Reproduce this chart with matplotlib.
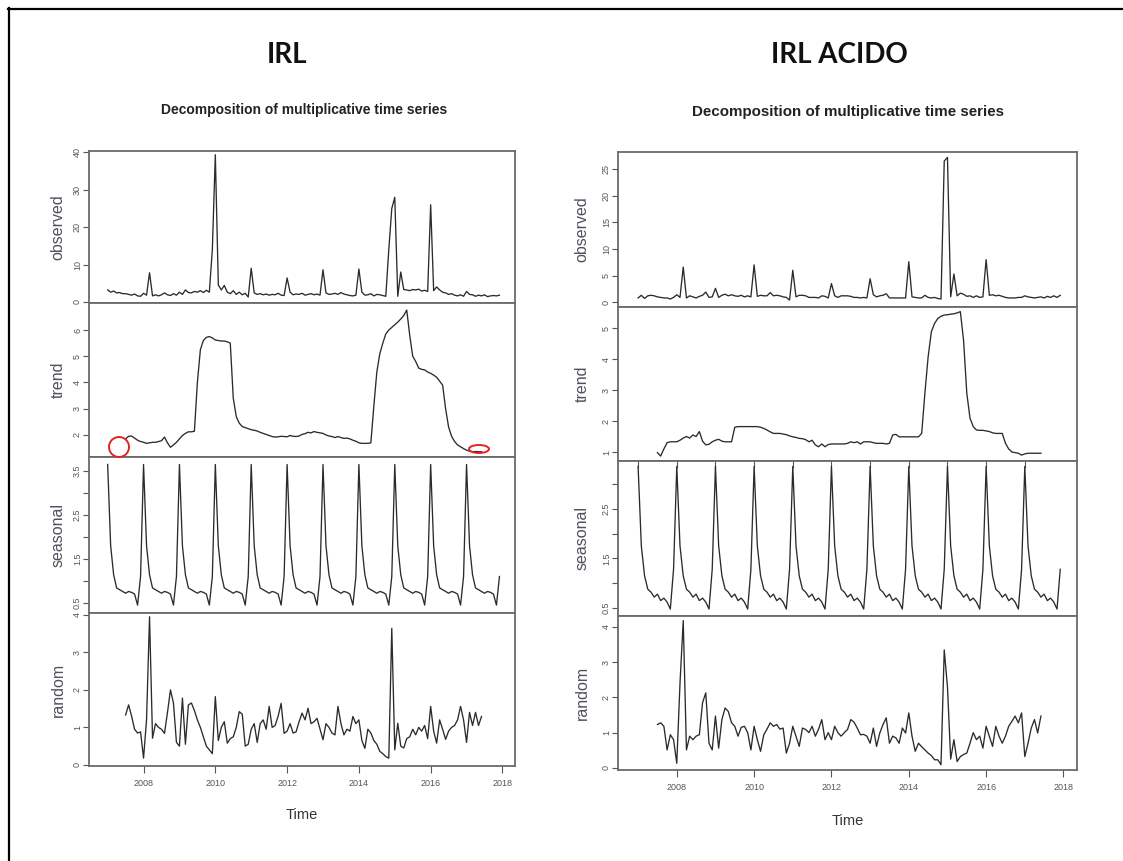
import numpy as np
import matplotlib.pyplot as plt
from matplotlib.patches import Ellipse
from matplotlib.lines import Line2D

W, H = 1123, 861
NARROW = ["Liberation Sans Narrow", "Liberation Sans", "DejaVu Sans"]
plt.rcParams["font.family"] = ["Liberation Sans", "DejaVu Sans"]

# monthly series, Jan 2007 .. Dec 2017
start_year = 2007
freq = 12
panel_names = ["observed", "trend", "seasonal", "random"]
x_ticks = [2008, 2010, 2012, 2014, 2016, 2018]

# ---------------- IRL ----------------
irl_observed = [
    3.2, 2.6, 2.9, 2.4, 2.5, 2.2, 2.2, 2.0, 1.8, 2.1, 1.6, 1.5,
    2.3, 1.8, 7.8, 1.6, 1.9, 1.6, 1.9, 2.4, 1.9, 1.7, 2.2, 1.8,
    2.6, 2.0, 3.2, 2.5, 2.4, 2.8, 2.6, 3.0, 2.5, 3.1, 2.6, 14.0,
    39.4, 4.5, 3.2, 4.4, 2.6, 2.2, 3.0, 2.0, 2.6, 1.9, 2.3, 1.3,
    9.0, 2.4, 2.0, 2.2, 1.9, 2.1, 1.8, 2.0, 1.9, 2.3, 1.8, 1.7,
    6.4, 2.6, 1.9, 2.1, 2.0, 2.3, 1.8, 2.0, 2.2, 1.9, 2.1, 1.8,
    8.6, 2.4, 2.0, 2.1, 2.3, 2.0, 2.5, 2.1, 1.9, 1.7, 1.6, 1.8,
    8.8, 2.6, 1.8, 1.9, 2.2, 1.6, 2.0, 1.9, 1.7, 1.5, 14.0, 25.0,
    28.0, 1.5, 8.0, 3.3, 3.2, 3.0, 3.3, 3.2, 3.4, 2.9, 3.1, 2.8,
    26.0, 3.0, 4.0, 3.2, 2.6, 2.4, 2.0, 2.2, 1.8, 1.6, 1.9, 1.5,
    2.8, 2.0, 1.9, 1.5, 1.8, 1.6, 1.9, 1.4, 1.6, 1.7, 1.6, 1.8,
]
# trend / random: Jul 2007 .. Jun 2017 (moving average loses 6 months each end)
irl_trend = [
    1.85, 1.95, 1.96, 1.88, 1.80, 1.75, 1.72, 1.68, 1.70, 1.72, 1.72, 1.75,
    1.78, 1.92, 1.70, 1.53, 1.62, 1.72, 1.85, 1.98, 2.06, 2.12, 2.12, 2.14,
    4.00, 5.25, 5.60, 5.72, 5.75, 5.70, 5.62, 5.60, 5.58, 5.58, 5.55, 5.50,
    3.40, 2.70, 2.45, 2.32, 2.28, 2.24, 2.20, 2.18, 2.15, 2.10, 2.06, 2.02,
    1.98, 1.94, 1.92, 1.93, 1.95, 1.94, 1.93, 1.98, 1.95, 1.94, 1.96, 2.02,
    2.05, 2.10, 2.08, 2.13, 2.10, 2.08, 2.06, 2.00, 1.96, 1.94, 1.90, 1.94,
    1.90, 1.87, 1.88, 1.85, 1.80, 1.76, 1.70, 1.68, 1.68, 1.68, 1.70, 3.10,
    4.40, 5.10, 5.50, 5.85, 6.00, 6.10, 6.20, 6.30, 6.42, 6.55, 6.76, 5.80,
    5.00, 4.80, 4.55, 4.50, 4.48, 4.40, 4.35, 4.28, 4.20, 4.05, 3.90, 3.00,
    2.30, 1.95, 1.75, 1.62, 1.55, 1.48, 1.42, 1.38, 1.36, 1.37, 1.36, 1.36,
]
irl_seasonal = [3.65, 1.80, 1.14, 0.84, 0.80, 0.76, 0.72, 0.76, 0.74, 0.70, 0.45, 1.10]
irl_random = [
    1.33, 1.60, 1.30, 0.95, 0.85, 0.88, 0.18, 1.20, 3.95, 0.71, 1.10, 1.00,
    0.95, 0.84, 1.40, 2.00, 1.65, 0.60, 0.50, 1.78, 0.55, 1.60, 1.65, 1.45,
    1.20, 1.00, 0.75, 0.50, 0.40, 0.30, 1.82, 0.65, 1.00, 1.15, 0.58, 0.70,
    0.75, 1.00, 1.42, 1.35, 0.50, 0.55, 0.95, 1.10, 0.60, 1.10, 1.20, 0.95,
    1.56, 1.00, 1.05, 1.30, 1.64, 0.84, 0.90, 1.10, 0.85, 0.88, 1.15, 1.38,
    1.20, 1.51, 1.10, 1.15, 1.24, 0.95, 0.67, 1.10, 1.00, 0.85, 0.80, 1.56,
    1.10, 0.80, 0.95, 0.90, 1.29, 1.10, 1.20, 0.65, 0.44, 0.95, 0.85, 0.65,
    0.55, 0.36, 0.30, 0.22, 0.18, 3.64, 0.40, 1.11, 0.50, 0.45, 0.70, 0.75,
    0.95, 0.80, 1.00, 0.90, 1.05, 0.70, 1.56, 0.90, 0.58, 1.20, 0.95, 0.68,
    0.90, 1.00, 1.05, 1.20, 1.56, 1.20, 0.60, 1.40, 1.05, 1.40, 1.05, 1.29,
]

# ---------------- IRL ACIDO ----------------
acido_observed = [
    0.8, 1.3, 0.7, 1.2, 1.3, 1.2, 1.0, 0.9, 0.8, 0.8, 0.6, 0.9,
    1.4, 0.9, 6.6, 0.8, 1.2, 1.0, 0.8, 1.1, 1.3, 1.9, 0.9, 1.0,
    2.6, 0.9, 1.3, 1.5, 1.2, 1.4, 1.2, 1.1, 1.3, 1.0, 1.2, 1.0,
    7.0, 1.1, 1.3, 1.2, 1.2, 1.8, 1.2, 1.3, 1.2, 1.0, 0.9, 0.4,
    6.0, 1.0, 1.3, 1.3, 1.2, 0.9, 0.9, 0.9, 0.8, 1.2, 1.1, 0.8,
    3.5, 1.2, 0.9, 1.2, 1.2, 1.2, 1.1, 0.9, 0.9, 0.8, 0.9, 0.8,
    4.4, 1.4, 1.0, 1.2, 1.3, 1.6, 0.8, 0.8, 0.8, 0.8, 0.8, 0.8,
    7.6, 1.0, 0.9, 0.8, 0.8, 1.3, 0.9, 0.8, 0.9, 0.7, 0.6, 26.5,
    27.2, 1.0, 5.3, 1.2, 1.7, 1.5, 1.1, 1.2, 0.9, 1.2, 0.9, 1.0,
    8.0, 1.3, 1.4, 1.2, 1.3, 1.1, 0.9, 0.8, 0.8, 0.8, 0.9, 0.9,
    1.2, 1.0, 0.9, 0.8, 0.9, 1.0, 0.8, 1.1, 0.9, 1.2, 0.9, 1.3,
]
acido_trend = [
    0.98, 0.87, 1.10, 1.30, 1.33, 1.33, 1.33, 1.38, 1.45, 1.50, 1.45, 1.55,
    1.50, 1.66, 1.35, 1.23, 1.25, 1.33, 1.38, 1.41, 1.35, 1.33, 1.33, 1.33,
    1.80, 1.82, 1.82, 1.82, 1.82, 1.82, 1.82, 1.82, 1.80, 1.76, 1.71, 1.65,
    1.60, 1.60, 1.60, 1.58, 1.56, 1.52, 1.49, 1.47, 1.44, 1.43, 1.40, 1.33,
    1.38, 1.23, 1.17, 1.26, 1.17, 1.24, 1.26, 1.26, 1.26, 1.26, 1.26, 1.28,
    1.33, 1.30, 1.33, 1.26, 1.33, 1.33, 1.33, 1.30, 1.28, 1.28, 1.28, 1.26,
    1.28, 1.55, 1.57, 1.49, 1.49, 1.49, 1.49, 1.49, 1.49, 1.49, 1.60, 2.90,
    4.07, 4.88, 5.15, 5.31, 5.38, 5.42, 5.43, 5.45, 5.46, 5.49, 5.53, 4.60,
    2.90, 2.09, 1.82, 1.71, 1.70, 1.70, 1.68, 1.66, 1.62, 1.60, 1.60, 1.60,
    1.28, 1.10, 1.00, 0.98, 0.96, 0.90, 0.94, 0.96, 0.96, 0.96, 0.96, 0.96,
]
acido_seasonal = [3.35, 1.75, 1.15, 0.88, 0.82, 0.72, 0.78, 0.65, 0.70, 0.62, 0.48, 1.28]
acido_random = [
    1.23, 1.28, 1.18, 0.51, 0.94, 0.80, 0.13, 2.40, 4.18, 0.51, 0.90, 0.80,
    0.90, 0.94, 1.85, 2.13, 0.70, 0.51, 1.47, 0.56, 1.37, 1.70, 1.60, 1.28,
    1.18, 0.90, 1.15, 1.18, 1.00, 0.51, 1.18, 0.80, 0.47, 0.94, 1.10, 1.28,
    1.18, 1.23, 1.10, 1.13, 0.42, 0.70, 1.18, 0.90, 0.61, 1.13, 1.09, 1.00,
    1.18, 0.90, 1.10, 1.37, 0.80, 1.00, 0.80, 1.18, 1.00, 0.90, 1.00, 1.09,
    1.37, 1.30, 1.13, 0.94, 0.95, 0.90, 0.70, 1.13, 0.61, 0.99, 1.23, 1.42,
    0.70, 0.90, 0.85, 0.70, 1.13, 0.99, 1.56, 0.90, 0.47, 0.70, 0.60, 0.51,
    0.42, 0.35, 0.23, 0.23, 0.09, 3.35, 2.30, 0.25, 0.80, 0.18, 0.32, 0.38,
    0.42, 0.70, 1.00, 0.80, 0.90, 0.56, 1.18, 0.90, 0.61, 1.18, 0.90, 0.70,
    0.90, 1.18, 1.32, 1.47, 1.28, 1.56, 0.32, 0.70, 1.13, 1.37, 0.99, 1.47,
]


def pad(vals):
    gap = [np.nan] * (freq // 2)
    return np.r_[gap, vals, gap]


def px_axes(fig, x0, x1, y0, y1):
    return fig.add_axes([x0 / W, 1 - y1 / H, (x1 - x0) / W, (y1 - y0) / H])


def decomposition(fig, box_x, box_y, observed, trend, seasonal, random,
                  ylims, yticks, ylabel_x, time_y, top_ticks=False):
    n = len(observed)
    t = start_year + np.arange(n) / freq
    series = [np.asarray(observed), pad(trend),
              np.tile(seasonal, n // freq), pad(random)]
    axes = []
    for i, name in enumerate(panel_names):
        ax = px_axes(fig, box_x[0], box_x[1], box_y[i], box_y[i + 1])
        ax.plot(t, series[i], color="#2b2b2b", lw=0.95)
        ax.set_xlim(2006.48, 2018.35)
        ax.set_ylim(*ylims[i])
        ticks, labels = yticks[i]
        ax.set_yticks(ticks)
        ax.set_yticklabels(labels, family=NARROW)
        ax.tick_params(axis="y", direction="out", length=4, width=0.8,
                       color="#555555", labelsize=6.5, labelcolor="#555555", pad=1)
        plt.setp(ax.get_yticklabels(), rotation=90, va="center")
        for sp in ax.spines.values():
            sp.set_color("#6a6a6a")
            sp.set_linewidth(1.3)
        if i == 3:
            ax.set_xticks(x_ticks)
            ax.set_xticklabels([str(v) for v in x_ticks], family=NARROW)
            ax.tick_params(axis="x", direction="out", length=5, width=0.8,
                           color="#555555", labelsize=6.5, labelcolor="#555555", pad=4)
        elif i == 2 and top_ticks:
            ax.set_xticks(range(2007, 2018))
            ax.tick_params(axis="x", bottom=False, top=True, direction="in",
                           length=5, width=0.8, color="#555555", labelbottom=False)
        else:
            ax.set_xticks([])
        yc = (box_y[i] + box_y[i + 1]) / 2
        fig.text(ylabel_x / W, 1 - yc / H, name, rotation=90, ha="center",
                 va="center", fontsize=11.5, color="#50505e")
        axes.append(ax)
    fig.text((box_x[0] + box_x[1]) / 2 / W, 1 - time_y / H, "Time",
             ha="center", va="center", fontsize=10.5, family=NARROW, color="#333333")
    return axes


fig = plt.figure(figsize=(W / 100, H / 100), dpi=100)

seas_left = ([0.5, 1.0, 1.5, 2.0, 2.5, 3.0, 3.5], ["0.5", "", "1.5", "", "2.5", "", "3.5"])
left_axes = decomposition(
    fig, (89, 515), (151, 303, 457, 613, 766),
    irl_observed, irl_trend, irl_seasonal, irl_random,
    ylims=[(-0.3, 40.4), (1.16, 7.03), (0.27, 3.82), (-0.03, 4.05)],
    yticks=[([0, 10, 20, 30, 40], ["0", "10", "20", "30", "40"]),
            ([2, 3, 4, 5, 6], ["2", "3", "4", "5", "6"]),
            seas_left,
            ([0, 1, 2, 3, 4], ["0", "1", "2", "3", "4"])],
    ylabel_x=58, time_y=815)

seas_right = ([0.5, 1.0, 1.5, 2.0, 2.5, 3.0], ["0.5", "", "1.5", "", "2.5", ""])
right_axes = decomposition(
    fig, (618, 1077), (152, 307, 461, 616, 770),
    acido_observed, acido_trend, acido_seasonal, acido_random,
    ylims=[(-0.9, 28.2), (0.71, 5.68), (0.34, 3.46), (-0.06, 4.31)],
    yticks=[([0, 5, 10, 15, 20, 25], ["0", "5", "10", "15", "20", "25"]),
            ([1, 2, 3, 4, 5], ["1", "2", "3", "4", "5"]),
            seas_right,
            ([0, 1, 2, 3, 4], ["0", "1", "2", "3", "4"])],
    ylabel_x=582, time_y=821, top_ticks=True)

# titles
fig.text(287 / W, 1 - 55 / H, "IRL", ha="center", va="center",
         fontsize=20, fontweight="bold", family=["Lato", "DejaVu Sans"], color="#111111")
fig.text(839 / W, 1 - 55 / H, "IRL ACIDO", ha="center", va="center",
         fontsize=20, fontweight="bold", family=["Lato", "DejaVu Sans"], color="#111111")
fig.text(304 / W, 1 - 110 / H, "Decomposition of multiplicative time series",
         ha="center", va="center", fontsize=10, fontweight="bold", family=NARROW,
         color="#222222")
fig.text(848 / W, 1 - 112 / H, "Decomposition of multiplicative time series",
         ha="center", va="center", fontsize=10.9, fontweight="bold", family=NARROW,
         color="#222222")

# red marks on the IRL trend panel
for cx, cy, w, h in [(119, 447, 20, 20), (479, 449, 20, 8)]:
    fig.add_artist(Ellipse((cx / 100, (H - cy) / 100), w / 100, h / 100,
                           transform=fig.dpi_scale_trans, fill=False,
                           edgecolor="#e52222", lw=1.4))

# frame of the screenshot (left and top edges)
fig.add_artist(Line2D([8.5 / W, 8.5 / W], [0, 1 - 8 / H], transform=fig.transFigure,
                      color="black", lw=1.6))
fig.add_artist(Line2D([8 / W, 1], [1 - 8.5 / H, 1 - 8.5 / H], transform=fig.transFigure,
                      color="black", lw=1.6))

fig.savefig("out.png", dpi=100, facecolor="white")
